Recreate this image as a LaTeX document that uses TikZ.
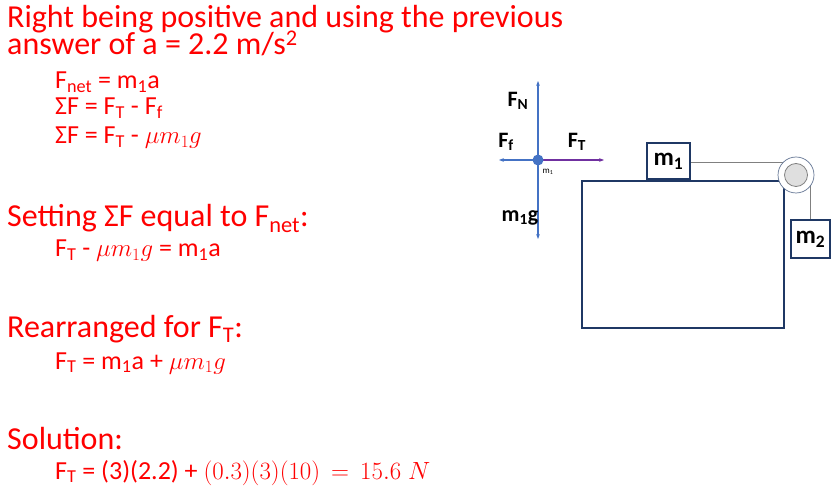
\documentclass[tikz,border=0pt]{standalone}
\usepackage{fontspec}
\setmainfont{Carlito}
\usetikzlibrary{arrows.meta}
\definecolor{fred}{RGB}{255,0,0}
\definecolor{fblue}{RGB}{68,114,196}
\definecolor{fpurp}{RGB}{112,48,160}
\definecolor{fnavy}{RGB}{31,56,100}
\tikzset{
 big/.style={anchor=base west,inner sep=0pt,text=fred,font=\fontsize{32}{32}\selectfont},
 small/.style={anchor=base west,inner sep=0pt,text=fred,font=\fontsize{26}{26}\selectfont},
 flab/.style={inner sep=0pt,font=\fontsize{22}{22}\selectfont\bfseries},
 farr/.style={fblue,line width=1.3pt,-{Stealth[length=5pt]}},
 mbox/.style={draw=fnavy,line width=1.2pt,fill=white,font=\fontsize{25}{25}\selectfont\bfseries,inner sep=0pt}
}
\begin{document}
\begin{tikzpicture}[x=1pt,y=-1pt]
\useasboundingbox (0,0) rectangle (837,502);
\node[big] (t1) at (7,28) {Right being positive and using the previous};
\node[big] (t2) at (7,55) {answer of a = 2.2 m/s\textsuperscript{2}};
\node[small] (a1) at (55,89) {F\textsubscript{net} = m\textsubscript{1}a};
\node[small] (a2) at (55,115) {ΣF =  F\textsubscript{T} - F\textsubscript{f}};
\node[small] (a3) at (55,144) {ΣF =  F\textsubscript{T} - $\mu m_1 g$};
\node[big] (s1) at (7,227) {Setting ΣF equal to  F\textsubscript{net}:};
\node[small] (s2) at (55,257) {F\textsubscript{T} - $\mu m_1 g$ = m\textsubscript{1}a};
\node[big] (r1) at (7,337) {Rearranged for F\textsubscript{T}:};
\node[small] (r2) at (55,369) {F\textsubscript{T} = m\textsubscript{1}a + $\mu m_1 g$};
\node[big] (u1) at (7,449) {Solution:};
\node[small] (u2) at (55,479) {F\textsubscript{T} = (3)(2.2) + $(0.3)(3)(10)\,=\,15.6\;N$};
% table and blocks
\draw[fnavy,line width=2.2pt] (582,328) -- (582,181) -- (784,181) -- (784,328) -- cycle;
\coordinate (pc) at (796,175);
\draw[gray,line width=0.6pt] (690,162) -- (796,162);
\draw[gray,line width=0.6pt] (810,175) -- (810,220);
\node[mbox,minimum width=43pt,minimum height=36pt] (m1) at (668.5,161) {m\textsubscript{1}};
\node[mbox,minimum width=39pt,minimum height=38pt] (m2) at (810.5,239) {m\textsubscript{2}};
\draw[fnavy!70,fill=white,line width=0.7pt] (pc) circle (18);
\draw[gray,fill=gray!25,line width=0.8pt] (pc) circle (11.5);
% FBD
\coordinate (o) at (538,160);
\coordinate (up) at (538,81);
\coordinate (dn) at (538,239);
\coordinate (lf) at (499,160);
\coordinate (rt) at (604,160);
\draw[farr] (o) -- (up);
\draw[farr] (o) -- (dn);
\draw[farr] (o) -- (lf);
\draw[fpurp,line width=1.3pt,-{Stealth[length=5pt]}] (o) -- (rt);
\fill[fblue] (o) circle (5.5);
\node[flab] (fn) at (518,101) {F\textsubscript{N}};
\node[flab] (ff) at (506,142) {F\textsubscript{f}};
\node[flab] (ft) at (577,142) {F\textsubscript{T}};
\node[flab] (mg) at (520,218) {m\textsubscript{1}g};
\node[inner sep=0pt,font=\fontsize{9}{9}\selectfont] (ml) at (548,172) {m\textsubscript{1}};
\end{tikzpicture}
\end{document}
